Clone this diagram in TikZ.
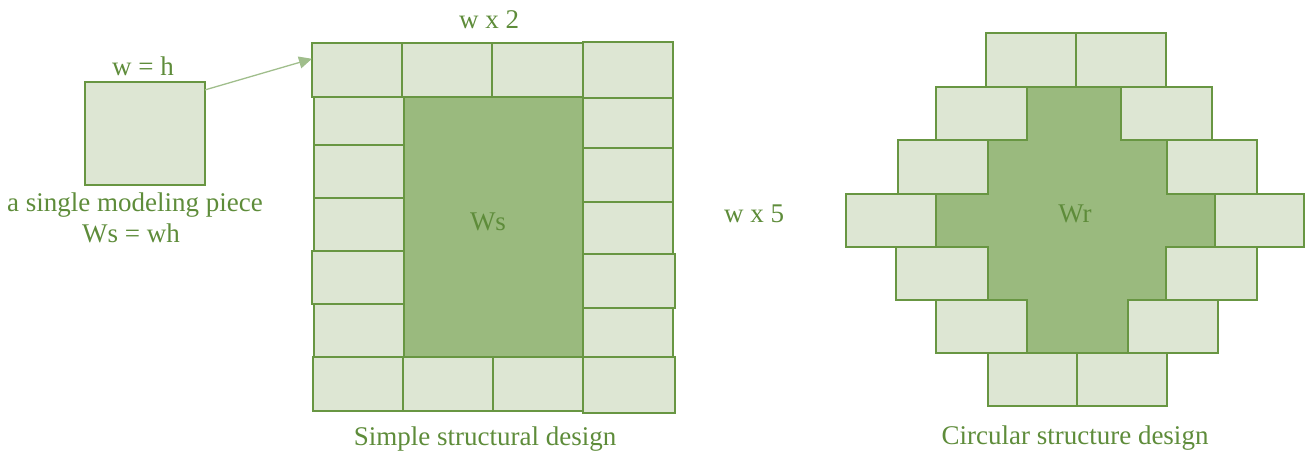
\documentclass[tikz,border=0pt]{standalone}
\usepackage{fontspec}
\setmainfont{Liberation Serif}
\usetikzlibrary{fit,arrows.meta}
\definecolor{lightg}{RGB}{221,230,211}
\definecolor{darkg}{RGB}{154,186,126}
\definecolor{edgeg}{RGB}{104,150,66}
\definecolor{textg}{RGB}{94,140,58}
\definecolor{arrowg}{RGB}{160,190,140}
\tikzset{
  brick/.style={draw=edgeg, fill=lightg, line width=1.3pt, inner sep=0pt, outer sep=0pt},
  core/.style={draw=edgeg, fill=darkg, line width=1.3pt, inner sep=0pt, outer sep=0pt},
  lbl/.style={text=textg, font=\fontsize{27}{31}\selectfont, inner sep=0pt, anchor=base},
  link/.style={draw=arrowg, line width=1.3pt, -{Triangle[length=13pt,width=12pt]}}
}
\newcommand{\brk}[5]{\node[brick, fit={(#2,#3)(#4,#5)}] (#1) {};}
\begin{document}
\begin{tikzpicture}[x=1pt,y=-1pt]
\useasboundingbox (0,0) rectangle (1306,453);
% single piece
\node[brick, fit={(85,82)(205,185)}] (piece) {};
\node[lbl] (wh) at (143,75) {w = h};
\node[lbl] (capA) at (135,211) {a single modeling piece};
\node[lbl] (capB) at (131,242) {Ws = wh};
% simple structure
\node[core, fit={(404,97)(583,357)}] (ws) {};
\node[lbl] (wsl) at (488,230) {Ws};
\brk{s11}{312}{43}{402}{97}
\brk{s12}{402}{43}{492}{97}
\brk{s13}{492}{43}{583}{97}
\brk{s14}{583}{42}{673}{98}
\brk{l1}{314}{97}{404}{145}
\brk{l2}{314}{145}{404}{198}
\brk{l3}{314}{198}{404}{251}
\brk{l4}{312}{251}{404}{304}
\brk{l5}{314}{304}{404}{357}
\brk{r1}{583}{98}{673}{148}
\brk{r2}{583}{148}{673}{202}
\brk{r3}{583}{202}{673}{254}
\brk{r4}{583}{254}{675}{308}
\brk{r5}{583}{308}{673}{357}
\brk{b1}{313}{357}{403}{411}
\brk{b2}{403}{357}{493}{411}
\brk{b3}{493}{357}{583}{411}
\brk{b4}{583}{357}{675}{413}
\node[lbl] (wx2) at (489,28) {w x 2};
\node[lbl] (wx5) at (754,222) {w x 5};
\node[lbl] (simple) at (485,445) {Simple structural design};
\draw[link] (piece.36.6) -- (s11.166);
% circular structure
\draw[draw=edgeg, fill=darkg, line width=1.3pt]
  (1027,87) -- (1121,87) -- (1121,140) -- (1167,140) -- (1167,194) -- (1215,194)
  -- (1215,247) -- (1166,247) -- (1166,300) -- (1128,300) -- (1128,353) -- (1027,353)
  -- (1027,300) -- (988,300) -- (988,247) -- (936,247) -- (936,194) -- (988,194)
  -- (988,140) -- (1027,140) -- cycle;
\node[lbl] (wr) at (1075,222) {Wr};
\brk{c1a}{986}{33}{1076}{87}
\brk{c1b}{1076}{33}{1166}{87}
\brk{c2a}{936}{87}{1027}{140}
\brk{c2b}{1121}{87}{1212}{140}
\brk{c3a}{898}{140}{988}{194}
\brk{c3b}{1167}{140}{1257}{194}
\brk{c4a}{846}{194}{936}{247}
\brk{c4b}{1215}{194}{1304}{247}
\brk{c5a}{896}{247}{988}{300}
\brk{c5b}{1166}{247}{1257}{300}
\brk{c6a}{936}{300}{1027}{353}
\brk{c6b}{1128}{300}{1218}{353}
\brk{c7a}{988}{353}{1077}{406}
\brk{c7b}{1077}{353}{1167}{406}
\node[lbl] (circ) at (1075,444) {Circular structure design};
\end{tikzpicture}
\end{document}
